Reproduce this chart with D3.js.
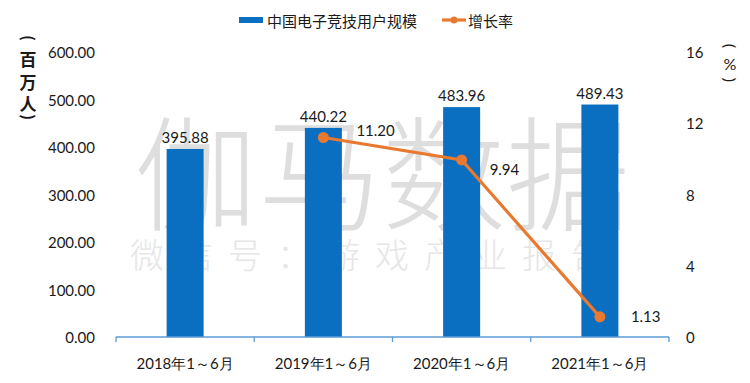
<!DOCTYPE html>
<html><head><meta charset="utf-8">
<script src="https://cdn.jsdelivr.net/npm/d3@7"></script>
<style>
body{margin:0;background:#fff;}
svg{display:block;}
</style></head><body>
<svg id="chart" width="750" height="383"></svg>
<script>
const categories = ["2018年1～6月","2019年1～6月","2020年1～6月","2021年1～6月"];
const users = [395.88, 440.22, 483.96, 489.43];
const growth = [null, 11.20, 9.94, 1.13];
const leftTicks = [0,100,200,300,400,500,600];
const rightTicks = [0,4,8,12,16];
const seriesNames = ["中国电子竞技用户规模","增长率"];

const NUM = "Lato, 'Noto Sans', sans-serif";
const CJK = "'Noto Sans CJK SC', sans-serif";
const svg = d3.select("#chart");
const W=750,H=383;
const m = {left:116, right:81, top:52, bottom:46};
const x = d3.scaleBand().domain(categories).range([m.left, W-m.right]).paddingInner(0).paddingOuter(0);
const yL = d3.scaleLinear().domain([0,600]).range([H-m.bottom, m.top]);
const yR = d3.scaleLinear().domain([0,16]).range([H-m.bottom, m.top]);

// watermark
svg.append("text").attr("x",382).attr("y",167).attr("text-anchor","middle")
  .attr("dominant-baseline","central").attr("font-family",CJK).attr("font-size",124)
  .attr("font-weight",300).attr("fill","#dedede").text("伽马数据");
svg.append("text").attr("x",375).attr("y",253).attr("text-anchor","middle")
  .attr("dominant-baseline","central").attr("font-family",CJK).attr("font-size",34)
  .attr("font-weight",300).attr("letter-spacing",15).attr("fill","#e6e6e6").text("微信号：游戏产业报告");

// bars
const bw = 37;
svg.append("g").selectAll("rect").data(users).join("rect")
  .attr("x",(d,i)=>x(categories[i])+x.bandwidth()/2-bw/2)
  .attr("y",d=>yL(d)).attr("width",bw).attr("height",d=>yL(0)-yL(d))
  .attr("fill","#0a6fc1");
svg.append("g").selectAll("text").data(users).join("text")
  .attr("x",(d,i)=>x(categories[i])+x.bandwidth()/2)
  .attr("y",d=>yL(d)-6).attr("text-anchor","middle")
  .attr("font-family",NUM).attr("font-size",15).attr("fill","#1a1a1a")
  .text(d=>d.toFixed(2));

// x axis
const xa = svg.append("g").attr("transform",`translate(0,${H-m.bottom})`);
xa.append("line").attr("x1",m.left).attr("x2",W-m.right).attr("stroke","#5b9bd5").attr("stroke-width",1.3);
const bounds = categories.map(c=>x(c)).concat([W-m.right]);
xa.selectAll("line.t").data(bounds).join("line").attr("class","t")
  .attr("x1",d=>d).attr("x2",d=>d).attr("y1",0).attr("y2",5).attr("stroke","#5b9bd5").attr("stroke-width",1.3);
xa.selectAll("text").data(categories).join("text")
  .attr("x",d=>x(d)+x.bandwidth()/2).attr("y",26).attr("text-anchor","middle")
  .attr("dominant-baseline","central").attr("font-family",NUM).attr("font-size",15).attr("fill","#1a1a1a")
  .text(d=>d);

// left ticks
svg.append("g").selectAll("text").data(leftTicks).join("text")
  .attr("x",95).attr("y",d=>yL(d)).attr("text-anchor","end").attr("dominant-baseline","central")
  .attr("font-family",NUM).attr("font-size",15).attr("fill","#1a1a1a").text(d=>d.toFixed(2));
// right ticks
svg.append("g").selectAll("text").data(rightTicks).join("text")
  .attr("x",686).attr("y",d=>yR(d)).attr("text-anchor","start").attr("dominant-baseline","central")
  .attr("font-family",NUM).attr("font-size",15).attr("fill","#1a1a1a").text(d=>d);

// line
const pts = growth.map((g,i)=>({g,c:categories[i]})).filter(p=>p.g!==null);
const line = d3.line().x(p=>x(p.c)+x.bandwidth()/2).y(p=>yR(p.g));
svg.append("path").datum(pts).attr("d",line).attr("fill","none").attr("stroke","#e8792f").attr("stroke-width",3.2);
svg.append("g").selectAll("circle").data(pts).join("circle")
  .attr("cx",p=>x(p.c)+x.bandwidth()/2).attr("cy",p=>yR(p.g)).attr("r",5.5).attr("fill","#e8792f");
const lblOff = [[33,-8],[28,9],[31,-1]];
svg.append("g").selectAll("text").data(pts).join("text")
  .attr("x",(p,i)=>x(p.c)+x.bandwidth()/2+lblOff[i][0]).attr("y",(p,i)=>yR(p.g)+lblOff[i][1])
  .attr("dominant-baseline","central").attr("font-family",NUM).attr("font-size",15).attr("fill","#1a1a1a")
  .text(p=>p.g.toFixed(2));

// legend
svg.append("rect").attr("x",239).attr("y",17).attr("width",24).attr("height",6).attr("fill","#0a6fc1");
svg.append("text").attr("x",267).attr("y",20).attr("dominant-baseline","central")
  .attr("font-family",CJK).attr("font-size",15).attr("fill","#1a1a1a").text(seriesNames[0]);
svg.append("line").attr("x1",442).attr("x2",466).attr("y1",20).attr("y2",20).attr("stroke","#e8792f").attr("stroke-width",3.2);
svg.append("circle").attr("cx",454).attr("cy",20).attr("r",3.5).attr("fill","#e8792f");
svg.append("text").attr("x",468).attr("y",20).attr("dominant-baseline","central")
  .attr("font-family",CJK).attr("font-size",15).attr("fill","#1a1a1a").text(seriesNames[1]);

// axis titles (vertical, parentheses rotated)
function vtitle(chars, xs, ys, fonts, size, weight){
  chars.forEach((c,i)=>{
    const rot = (c==="(" || c===")") ? 90 : 0;
    svg.append("text").attr("transform",`translate(${xs},${ys[i]}) rotate(${rot})`)
      .attr("text-anchor","middle").attr("dominant-baseline","central")
      .attr("font-family",fonts[i]).attr("font-size",size).attr("font-weight",weight)
      .attr("fill","#1a1a1a").text(c);
  });
}
vtitle(["(","百","万","人",")"], 28, [38,58,81,103,117], [NUM,CJK,CJK,CJK,NUM], 17, 700);
vtitle(["(","%",")"], 730, [46,63,80], [NUM,NUM,NUM], 16, 400);
</script>
</body></html>
